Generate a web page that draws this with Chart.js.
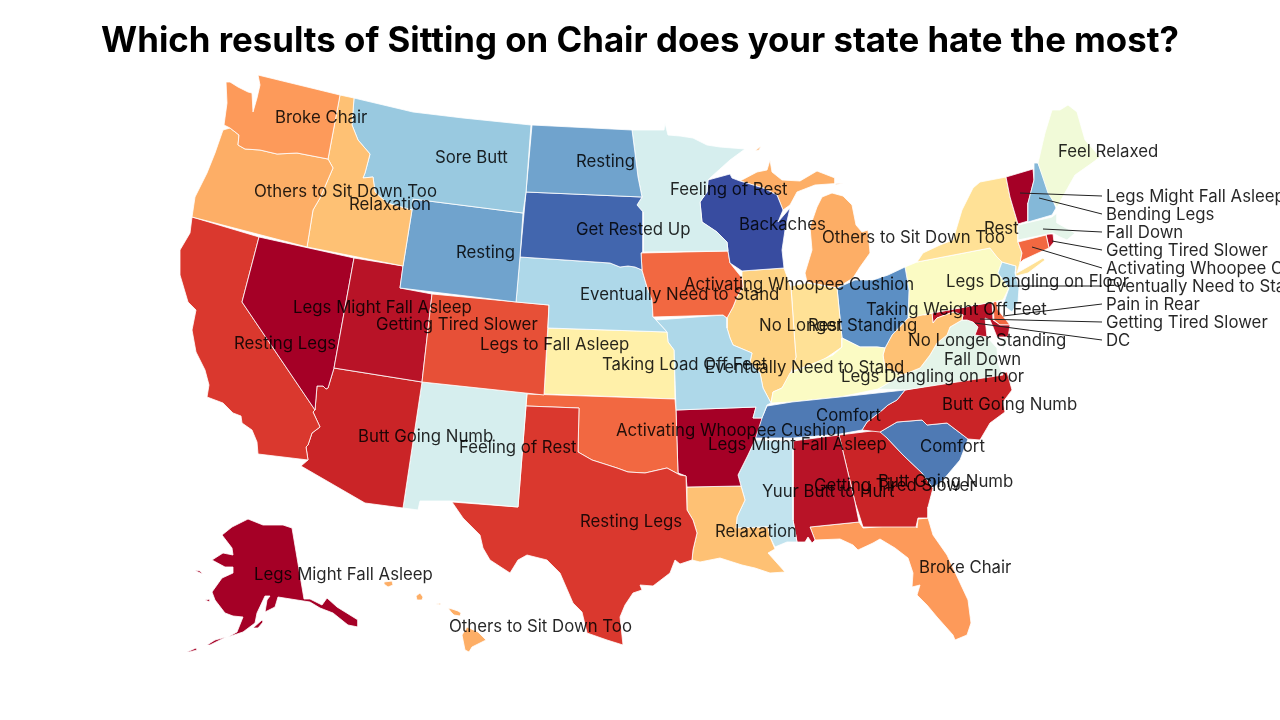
<!DOCTYPE html>
<html>
<head>
<meta charset="utf-8">
<title>Which results of Sitting on Chair does your state hate the most?</title>
<script src="https://cdn.jsdelivr.net/npm/chart.js@4"></script>
<style>
  html, body { margin: 0; background: #fff; }
  canvas { display: block; }
</style>
</head>
<body>
<canvas id="map" width="1280" height="720"></canvas>
<script>
// State outlines, in map units (x to the east, y to the south)
const washington = [[258,75],[340,95],[328,159],[297,153],[277,154],[260,150],[245,149],[238,145],[239,135],[230,128],[224,125],[227,103],[226,82],[230,82],[238,87],[248,92],[252,93],[253,112],[257,98],[260,85]];
const oregon = [[223,130],[230,128],[239,135],[238,145],[245,149],[260,150],[277,154],[297,153],[328,159],[333,168],[320,198],[313,210],[307,247],[192,217],[195,197],[207,173],[215,153]];
const idaho = [[340,95],[354,98],[352,125],[358,140],[370,154],[365,173],[363,178],[373,177],[375,192],[387,203],[412,210],[403,266],[307,247],[313,210],[320,198],[333,168],[328,159]];
const montana = [[354,98],[413,112],[463,118],[531,125],[526,192],[523,213],[413,199],[412,210],[387,203],[375,192],[373,177],[363,178],[365,173],[370,154],[358,140],[352,125]];
const wyoming = [[413,199],[523,213],[520,257],[516,302],[400,288],[403,266],[412,210]];
const northDakota = [[532,125],[632,130],[635,153],[638,177],[642,197],[526,192]];
const southDakota = [[526,192],[642,197],[637,205],[643,212],[643,252],[641,253],[642,270],[635,267],[628,266],[620,267],[610,263],[520,257]];
const minnesota = [[632,130],[664,130],[665,123],[668,135],[680,136],[693,138],[707,145],[720,147],[745,149],[730,160],[710,178],[708,180],[707,192],[700,202],[702,222],[717,232],[727,242],[728,251],[643,252],[643,212],[637,205],[642,197],[638,177],[635,153]];
const wisconsin = [[708,180],[730,174],[732,178],[740,181],[763,188],[777,195],[783,210],[778,222],[790,208],[785,230],[782,250],[784,268],[742,271],[730,263],[728,251],[727,242],[717,232],[702,222],[700,202],[707,192]];
const iowa = [[641,253],[728,251],[730,263],[742,278],[743,287],[737,297],[733,307],[727,318],[723,315],[653,317],[652,300],[647,287],[642,270]];
const nebraska = [[520,257],[610,263],[620,267],[628,266],[635,267],[642,270],[647,287],[652,300],[653,317],[656,320],[667,332],[548,328],[549,305],[516,302]];
const colorado = [[432,294],[549,305],[544,395],[422,382]];
const utah = [[354,258],[403,266],[400,288],[432,294],[422,382],[334,368]];
const nevada = [[259,237],[354,258],[334,368],[328,388],[326,389],[323,386],[317,386],[315,410],[242,302]];
const california = [[192,217],[259,237],[242,302],[315,410],[313,412],[320,427],[312,433],[308,445],[306,447],[308,460],[258,454],[257,442],[252,430],[242,423],[241,416],[233,413],[223,403],[207,397],[209,385],[205,370],[196,352],[192,330],[196,310],[188,302],[180,275],[180,250],[190,233]];
const arizona = [[334,368],[422,382],[403,508],[365,503],[301,466],[308,460],[306,447],[308,445],[312,433],[320,427],[313,412],[315,410],[317,386],[323,386],[326,389],[328,388]];
const newMexico = [[422,382],[527,393],[526,405],[518,507],[451,501],[420,501],[418,510],[403,508]];
const texas = [[526,406],[579,408],[578,452],[592,460],[617,468],[628,472],[645,473],[667,468],[680,475],[686,476],[687,510],[693,520],[697,533],[693,550],[692,560],[680,564],[675,560],[670,573],[653,586],[640,585],[642,590],[633,593],[625,605],[620,617],[623,645],[607,640],[587,633],[582,612],[573,603],[560,573],[547,560],[527,555],[518,560],[510,573],[490,560],[483,548],[480,535],[463,518],[452,502],[518,507]];
const oklahoma = [[527,394],[675,399],[676,412],[678,473],[680,475],[667,468],[645,473],[628,472],[617,468],[592,460],[578,452],[579,408],[526,406]];
const kansas = [[548,328],[667,332],[668,342],[674,350],[675,399],[544,394]];
const missouri = [[656,320],[723,315],[727,318],[727,328],[730,338],[733,345],[752,353],[750,362],[760,373],[763,388],[771,403],[767,405],[762,418],[753,418],[756,407],[676,410],[674,350],[668,342],[667,332]];
const arkansas = [[676,410],[756,407],[753,418],[762,418],[755,440],[748,455],[742,467],[738,475],[741,486],[687,487],[686,476],[678,473]];
const louisiana = [[687,487],[741,486],[745,500],[737,517],[736,528],[768,527],[770,537],[775,549],[768,553],[785,572],[770,573],[755,568],[742,565],[720,558],[700,562],[692,560],[693,550],[697,533],[693,520],[687,510]];
const mississippi = [[755,440],[793,441],[793,520],[797,542],[787,542],[775,547],[770,537],[768,527],[736,528],[737,517],[745,500],[741,486],[738,475],[742,467],[748,455]];
const alabama = [[793,441],[839,435],[855,502],[859,522],[810,527],[815,540],[812,543],[808,537],[805,542],[797,542],[793,520]];
const tennessee = [[905,390],[897,400],[888,405],[880,412],[867,422],[862,430],[840,434],[793,438],[755,438],[761,420],[767,406],[792,402],[840,397]];
const kentucky = [[771,403],[773,392],[782,388],[790,373],[810,365],[833,355],[842,347],[842,338],[860,347],[877,347],[885,348],[883,355],[885,368],[902,375],[890,382],[878,389],[840,397],[792,402]];
const illinois = [[742,271],[784,268],[791,288],[795,345],[796,357],[790,375],[782,388],[773,392],[771,403],[763,388],[760,373],[750,362],[752,353],[733,345],[730,338],[727,328],[727,318],[733,307],[737,297],[743,287],[742,278]];
const indiana = [[791,286],[807,283],[837,288],[842,338],[842,347],[823,360],[810,365],[790,372],[796,357],[795,345]];
const ohio = [[842,338],[860,347],[877,347],[885,348],[892,335],[908,318],[909,290],[905,267],[888,275],[873,280],[855,280],[837,288]];
const michiganLower = [[807,282],[805,273],[812,250],[810,227],[817,207],[822,197],[832,193],[843,196],[852,205],[856,225],[862,232],[868,230],[870,253],[860,267],[853,278],[837,288]];
const michiganUpper = [[740,181],[757,172],[767,170],[770,160],[772,172],[782,180],[800,181],[817,171],[835,178],[835,185],[843,183],[815,185],[797,192],[790,205],[783,210],[777,195],[763,188]];
const isleRoyale = [[755,151],[761,146],[759,150]];
const maine = [[1068,105],[1077,112],[1085,140],[1100,157],[1092,163],[1075,175],[1057,207],[1048,193],[1038,163],[1045,133],[1052,110],[1060,110]];
const newHampshire = [[1034,163],[1038,163],[1056,208],[1052,215],[1028,222],[1028,203],[1034,180]];
const vermont = [[1006,177],[1033,169],[1034,180],[1028,203],[1028,221],[1018,224],[1010,197]];
const massachusetts = [[1018,225],[1052,217],[1057,213],[1057,223],[1075,233],[1067,240],[1060,237],[1053,233],[1018,240]];
const connecticut = [[1018,242],[1046,235],[1049,248],[1023,260],[1020,263],[1022,253]];
const rhodeIsland = [[1046,234],[1053,234],[1054,242],[1049,248]];
const newYork = [[1006,177],[1010,197],[1018,224],[1018,242],[1022,253],[1020,263],[1017,273],[1043,258],[1045,260],[1028,273],[1016,276],[1016,266],[1002,262],[997,257],[990,248],[917,262],[923,253],[940,245],[953,240],[962,210],[973,188],[980,182]];
const newJersey = [[1002,262],[1016,266],[1015,273],[1019,288],[1018,302],[1012,312],[1003,305],[1009,288],[998,273]];
const pennsylvania = [[905,267],[917,262],[990,248],[997,257],[1002,262],[998,273],[1009,288],[1003,300],[993,302],[932,313],[908,318],[909,290]];
const westVirginia = [[885,348],[892,335],[908,318],[917,313],[925,315],[932,313],[933,323],[937,318],[953,312],[963,315],[962,320],[950,327],[947,335],[937,343],[930,355],[920,368],[910,372],[902,375],[885,368],[883,355]];
const maryland = [[932,313],[992,302],[993,320],[1000,325],[1010,325],[1008,337],[997,337],[993,327],[990,320],[985,318],[987,337],[975,335],[978,327],[973,322],[967,320],[962,320],[963,315],[953,312],[937,318],[933,323]];
const delaware = [[993,303],[996,298],[998,310],[1010,325],[1000,325],[994,320]];
const virginia = [[878,389],[890,382],[902,375],[910,372],[920,368],[930,355],[937,343],[947,335],[950,327],[962,320],[967,320],[973,322],[978,327],[975,335],[987,337],[997,348],[998,363],[1003,375],[905,390]];
const virginiaShore = [[1003,338],[1008,338],[1002,352]];
const northCarolina = [[905,390],[1007,372],[1012,390],[1003,402],[1005,412],[990,423],[980,440],[968,439],[947,423],[927,425],[922,420],[897,422],[880,432],[862,430],[867,422],[880,412],[888,405],[897,400]];
const southCarolina = [[880,432],[897,422],[922,420],[927,425],[947,423],[968,439],[960,460],[943,480],[933,488],[922,473],[903,455],[887,438]];
const georgia = [[839,435],[880,430],[887,438],[903,455],[922,473],[933,488],[928,507],[928,518],[918,518],[916,527],[863,527],[855,502]];
const florida = [[810,527],[859,522],[863,528],[915,524],[917,528],[918,519],[928,518],[933,535],[947,555],[968,600],[971,623],[967,635],[955,640],[953,635],[937,617],[927,605],[917,595],[920,585],[912,587],[913,573],[908,558],[895,548],[880,539],[873,543],[858,550],[853,545],[840,539],[815,540]];
const districtOfColumbia = [[971,320],[975,320],[975,324],[971,324]];
const alaska = [[292,528],[304,599],[310,599],[322,605],[327,598],[337,607],[358,620],[358,627],[348,625],[333,613],[320,608],[310,602],[297,600],[278,597],[275,607],[265,612],[267,600],[270,596],[265,596],[257,613],[255,623],[243,632],[228,637],[237,632],[243,617],[233,616],[225,613],[215,600],[212,592],[222,578],[233,573],[233,567],[225,567],[212,560],[223,553],[233,555],[232,548],[222,535],[232,527],[248,519],[263,525],[283,525]];
const kodiak = [[253,628],[262,620],[263,622],[258,628]];
const aleutianEast = [[207,645],[215,640],[226,637],[218,641],[210,645]];
const aleutianWest = [[187,652],[196,648],[197,650],[189,652]];
const nunivak = [[205,600],[210,599],[210,602]];
const stLawrence = [[195,570],[200,571],[203,574],[198,572]];
const kauai = [[384,582],[392,581],[393,585],[388,587],[384,584]];
const oahu = [[416,596],[420,593],[423,597],[422,600],[417,600]];
const molokai = [[436,604],[441,603],[441,605]];
const maui = [[448,608],[452,609],[458,611],[461,613],[460,616],[454,615],[451,612]];
const bigIsland = [[467,627],[478,632],[486,640],[472,647],[469,652],[465,650],[462,635]];

// Which outline goes with which answer rank (0 = reddest, 24 = bluest)
const stateOutlines = [washington, oregon, idaho, montana, wyoming, northDakota, southDakota, minnesota, wisconsin, iowa, nebraska, colorado, utah, nevada, california, arizona, newMexico, texas, oklahoma, kansas, missouri, arkansas, louisiana, mississippi, alabama, tennessee, kentucky, illinois, indiana, ohio, michiganLower, michiganUpper, isleRoyale, maine, newHampshire, vermont, massachusetts, connecticut, rhodeIsland, newYork, newJersey, pennsylvania, westVirginia, maryland, delaware, virginia, virginiaShore, northCarolina, southCarolina, georgia, florida, districtOfColumbia, alaska, kodiak, aleutianEast, aleutianWest, nunivak, stLawrence, kauai, oahu, molokai, maui, bigIsland];
const stateRanks = [6, 7, 8, 18, 20, 20, 23, 15, 24, 5, 17, 4, 1, 0, 3, 2, 15, 3, 5, 11, 17, 0, 8, 16, 1, 22, 12, 9, 10, 21, 7, 7, 7, 13, 19, 0, 14, 5, 1, 10, 17, 12, 8, 1, 5, 14, 14, 2, 22, 2, 6, 1, 0, 0, 0, 0, 0, 0, 7, 7, 7, 7, 7];
const rankColors = ['#a50026', '#b81327', '#ca2427', '#da382e', '#e75037', '#f26841', '#fd9a5a', '#fdae66', '#fec174', '#fed283', '#ffe196', '#fff0a9', '#fbfbc4', '#f1fad8', '#e4f4e9', '#d6eeee', '#c2e3ee', '#aed8e9', '#99c9e0', '#84b8d8', '#70a3cd', '#5c8fc4', '#4f7ab4', '#4266ae', '#384ca0'];

// Text on the map
const labelTexts = ['Broke Chair', 'Sore Butt', 'Others to Sit Down Too', 'Relaxation', 'Resting', 'Resting', 'Get Rested Up', 'Feeling of Rest', 'Backaches', 'Others to Sit Down Too', 'Rest', 'Feel Relaxed', 'Legs Might Fall Asleep', 'Bending Legs', 'Fall Down', 'Getting Tired Slower', 'Activating Whoopee Cushion', 'Eventually Need to Stand', 'Pain in Rear', 'Getting Tired Slower', 'DC', 'Legs Dangling on Floor', 'Taking Weight Off Feet', 'No Longer Standing', 'Rest', 'Activating Whoopee Cushion', 'Eventually Need to Stand', 'Legs Might Fall Asleep', 'Getting Tired Slower', 'Legs to Fall Asleep', 'Resting Legs', 'Taking Load Off Feet', 'Eventually Need to Stand', 'No Longer Standing', 'Fall Down', 'Legs Dangling on Floor', 'Butt Going Numb', 'Comfort', 'Comfort', 'Activating Whoopee Cushion', 'Legs Might Fall Asleep', 'Butt Going Numb', 'Feeling of Rest', 'Getting Tired Slower', 'Butt Going Numb', 'Yuur Butt to Hurt', 'Relaxation', 'Resting Legs', 'Broke Chair', 'Legs Might Fall Asleep', 'Others to Sit Down Too'];
const labelXs = [275, 435, 254, 349, 456, 576, 576, 670, 739, 822, 984, 1058, 1106, 1106, 1106, 1106, 1106, 1106, 1106, 1106, 1106, 946, 866, 759, 808, 684, 580, 293, 376, 480, 234, 602, 705, 908, 944, 841, 942, 816, 920, 616, 708, 358, 459, 814, 878, 762, 715, 580, 919, 254, 449];
const labelYs = [118, 158, 192, 205, 253, 162, 230, 190, 225, 238, 229, 152, 197, 215, 233, 251, 269, 287, 305, 323, 341, 282, 310, 326, 326, 285, 295, 308, 325, 345, 344, 365, 368, 341, 360, 377, 405, 416, 447, 431, 445, 437, 448, 486, 482, 492, 532, 522, 568, 575, 627];

// Leader lines from the small northeastern states out to their labels
const leaderLines = [
  [[1102,196],[1020,193]],
  [[1102,214],[1039,198]],
  [[1102,232],[1043,229]],
  [[1102,250],[1052,241]],
  [[1102,268],[1032,247]],
  [[1102,286],[1009,286]],
  [[1102,304],[1003,316]],
  [[1102,322],[980,319]],
  [[1102,340],[975,323]]
];

const titleText = 'Which results of Sitting on Chair does your state hate the most?';
const titleHeight = 62.76;

const toPoints = ring => ring.map(p => ({ x: p[0], y: p[1] }));

const datasets = [];
leaderLines.forEach(line => {
  datasets.push({
    data: toPoints(line),
    showLine: true,
    borderColor: '#222',
    borderWidth: 1,
    pointRadius: 0,
    order: 0
  });
});
stateOutlines.forEach((ring, i) => {
  datasets.push({
    data: toPoints(ring.concat([ring[0]])),
    showLine: true,
    fill: 'shape',
    backgroundColor: rankColors[stateRanks[i]],
    borderColor: '#fff',
    borderWidth: 0.8,
    pointRadius: 0,
    order: 1
  });
});

// Writes the answers on the map through the chart's own scales
const mapLabels = {
  id: 'mapLabels',
  afterDatasetsDraw(chart) {
    const { ctx, scales } = chart;
    ctx.save();
    ctx.font = '16.8px Inter';
    ctx.fillStyle = 'rgba(0,0,0,0.85)';
    ctx.textAlign = 'left';
    ctx.textBaseline = 'middle';
    labelTexts.forEach((text, i) => {
      ctx.fillText(text, scales.x.getPixelForValue(labelXs[i]), scales.y.getPixelForValue(labelYs[i]));
    });
    ctx.restore();
  }
};

new Chart(document.getElementById('map'), {
  type: 'scatter',
  data: { datasets: datasets },
  plugins: [mapLabels],
  options: {
    responsive: false,
    animation: false,
    layout: { padding: 0 },
    scales: {
      x: { display: false, min: 0, max: 1280 },
      y: { display: false, min: titleHeight, max: 720, reverse: true }
    },
    plugins: {
      legend: { display: false },
      tooltip: { enabled: false },
      title: {
        display: true,
        text: titleText,
        color: '#000',
        font: { family: 'Inter', size: 34.8, weight: '700', lineHeight: 1.2 },
        padding: { top: 21, bottom: 0 }
      }
    }
  }
});
</script>
</body>
</html>
